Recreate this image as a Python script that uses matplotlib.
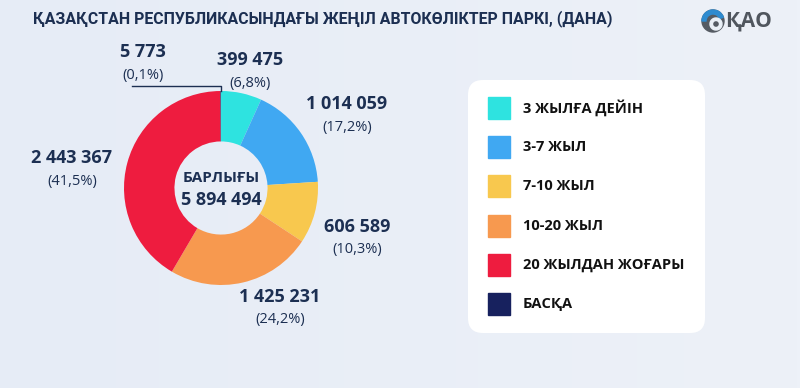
import numpy as np
import matplotlib
matplotlib.use('Agg')
from matplotlib import pyplot as plt
from matplotlib.patches import FancyBboxPatch, Circle, Wedge

plt.rcParams['font.family'] = ['Open Sans', 'Noto Sans', 'DejaVu Sans']

# данные
categories = ['3 ЖЫЛҒА ДЕЙІН', '3-7 ЖЫЛ', '7-10 ЖЫЛ', '10-20 ЖЫЛ', '20 ЖЫЛДАН ЖОҒАРЫ', 'БАСҚА']
values = [399475, 1014059, 606589, 1425231, 2443367, 5773]
value_labels = ['399 475', '1 014 059', '606 589', '1 425 231', '2 443 367', '5 773']
pct_labels = ['(6,8%)', '(17,2%)', '(10,3%)', '(24,2%)', '(41,5%)', '(0,1%)']
colors = ['#2EE3E0', '#40A8F2', '#F8C84E', '#F7994F', '#EE1C3F', '#17215E']
total_label = '5 894 494'
title = 'ҚАЗАҚСТАН РЕСПУБЛИКАСЫНДАҒЫ ЖЕҢІЛ АВТОКӨЛІКТЕР ПАРКІ, (ДАНА)'

W, H = 800, 388
navy = '#1C2F52'

fig = plt.figure(figsize=(W / 100, H / 100), dpi=100)
ax = fig.add_axes([0, 0, 1, 1])

# фон
grad = np.linspace(0, 1, 256)
bg = np.outer(np.ones(10), grad)
ax.imshow(bg, extent=[0, W, 0, H], cmap=matplotlib.colors.LinearSegmentedColormap.from_list(
    'bg', ['#E6ECF6', '#EDF1F8']), aspect='auto', zorder=0)

def py(y):
    return H - y

cx, cy, r = 221, py(188), 97
ax.pie(values, colors=colors, startangle=90, counterclock=False, center=(cx, cy),
       radius=r, wedgeprops=dict(width=r * 0.52, linewidth=0), frame=True)

ax.set_xlim(0, W)
ax.set_ylim(0, H)
ax.set_aspect('auto')
ax.axis('off')

# заголовок
ax.text(33, py(19), title, fontsize=11.4, fontweight='bold', color=navy, va='center', ha='left',
        family=['Roboto', 'Noto Sans', 'DejaVu Sans'])

# логотип
ax.add_patch(Circle((713, py(21)), 11, color='#555B63', zorder=3))
ax.add_patch(Wedge((713, py(21)), 11, 20, 180, width=4, color='#2E8BD0', zorder=4))
ax.add_patch(Wedge((716, py(24)), 6, 0, 360, width=2.5, color='#EAF0F7', zorder=4))
ax.text(725, py(21), 'ҚАО', fontsize=15, fontweight='bold', color='#50565E', va='center', ha='left')

# подписи
pos = [(250, 60), (347, 104), (357, 227), (280, 297), (72, 158), (143, 52)]
for (x, y), v, p in zip(pos, value_labels, pct_labels):
    ax.text(x, py(y), v, fontsize=13, fontweight='bold', color=navy, ha='center', va='center')
    ax.text(x, py(y + 23), p, fontsize=10.5, color=navy, ha='center', va='center')

# линия к малому сегменту
ax.plot([132, 221, 221], [py(86), py(86), py(91)], color=navy, lw=1)

# центр
ax.text(cx, py(178), 'БАРЛЫҒЫ', fontsize=11, fontweight='bold', color=navy, ha='center', va='center')
ax.text(cx, py(200), total_label, fontsize=13, fontweight='bold', color=navy, ha='center', va='center')

# легенда
ax.add_patch(FancyBboxPatch((468, py(333)), 237, 253, boxstyle='round,pad=0,rounding_size=15',
                            fc='white', ec='none', zorder=2))
for i, (c, lab) in enumerate(zip(colors, categories)):
    y = 108 + i * 39.2
    ax.add_patch(plt.Rectangle((488, py(y) - 11), 22, 22, color=c, zorder=3))
    ax.text(523, py(y), lab, fontsize=10.5, fontweight='bold', color='#111', va='center', ha='left', zorder=3)

fig.savefig('out.png', dpi=100)
